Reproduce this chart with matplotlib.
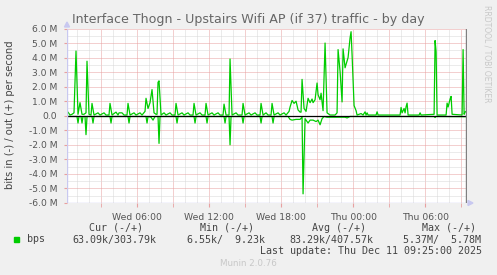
import numpy as np
import matplotlib
matplotlib.use("Agg")
from matplotlib import pyplot as plt
from matplotlib.patches import Rectangle, Polygon

# samples: minutes since Wed 00:00, traffic in Mbit/s
out_min = [5, 15, 25, 35, 45, 55, 65, 75, 85, 95,
           105, 110, 120, 130, 135, 145, 165, 175, 195, 205,
           220, 225, 235, 255, 265, 270, 285, 295, 310, 315,
           325, 345, 355, 375, 385, 400, 405, 415, 425, 435,
           445, 455, 460, 465, 470, 480, 495, 505, 525, 535,
           550, 555, 565, 585, 595, 615, 625, 640, 645, 655,
           675, 685, 700, 705, 715, 735, 745, 765, 775, 790,
           795, 805, 820, 825, 835, 855, 865, 885, 890, 900,
           920, 930, 950, 960, 975, 980, 990, 1005, 1015, 1030,
           1035, 1045, 1065, 1075, 1095, 1105, 1120, 1125, 1135, 1145,
           1155, 1165, 1175, 1180, 1185, 1195, 1205, 1215, 1225, 1235,
           1240, 1250, 1260, 1265, 1275, 1280, 1290, 1300, 1310, 1325,
           1350, 1360, 1365, 1375, 1385, 1390, 1400, 1410, 1415, 1425,
           1430, 1435, 1445, 1455, 1460, 1480, 1490, 1500, 1505, 1510,
           1515, 1555, 1560, 1565, 1675, 1680, 1685, 1695, 1700, 1705,
           1710, 1715, 1770, 1775, 1780, 1840, 1845, 1850, 1855, 1860,
           1905, 1910, 1915, 1925, 1930, 1935, 1980, 1985, 1990, 1995,
           2000, 2005]
out_mbps = [0.05, 0.25, 0.05, 0.1, 0.2, 4.45, 0.1, 0.9, 0.1, 0.1,
            0.2, 3.75, 0.1, 0.05, 0.85, 0.05, 0.2, 0.05, 0.2, 0.05,
            0.05, 0.85, 0.05, 0.25, 0.05, 0.2, 0.2, 0.05, 0.05, 0.85,
            0.05, 0.2, 0.05, 0.2, 0.05, 0.3, 1.2, 0.5, 0.9, 1.8,
            0.2, 0.1, 0.1, 2.3, 2.4, 0.05, 0.2, 0.05, 0.2, 0.05,
            0.05, 0.85, 0.05, 0.2, 0.05, 0.2, 0.05, 0.05, 0.85, 0.05,
            0.2, 0.05, 0.05, 0.85, 0.05, 0.2, 0.05, 0.2, 0.05, 0.05,
            0.8, 0.05, 0.05, 3.9, 0.05, 0.2, 0.05, 0.05, 0.85, 0.05,
            0.2, 0.05, 0.2, 0.05, 0.05, 0.85, 0.05, 0.2, 0.05, 0.05,
            0.85, 0.05, 0.2, 0.05, 0.2, 0.05, 0.3, 0.6, 1.05, 0.85,
            1.0, 0.4, 0.25, 0.25, 2.5, 0.5, 0.3, 1.2, 0.9, 1.15,
            0.9, 1.1, 2.25, 1.45, 1.1, 1.55, 0.35, 5.0, 0.2, 0.05,
            0.05, 0.2, 4.55, 3.05, 0.95, 4.6, 3.3, 3.75, 4.0, 5.35,
            5.78, 4.2, 0.7, 0.35, 0.05, 0.15, 0.05, 0.27, 0.05, 0.2,
            0.05, 0.05, 0.27, 0.05, 0.05, 0.57, 0.2, 0.5, 0.2, 0.62,
            0.87, 0.05, 0.05, 0.2, 0.05, 0.1, 0.1, 5.17, 4.4, 0.05,
            0.05, 0.87, 0.6, 1.15, 1.33, 0.1, 0.05, 0.05, 4.55, 0.1,
            0.25, 0.3]

in_min = [5, 60, 65, 70, 80, 85, 90, 100, 105, 110,
          135, 140, 145, 225, 230, 235, 315, 320, 325, 405,
          410, 415, 430, 440, 450, 465, 470, 475, 555, 560,
          565, 645, 650, 655, 705, 710, 715, 795, 800, 805,
          820, 825, 830, 885, 890, 895, 975, 980, 985, 1035,
          1040, 1045, 1115, 1125, 1135, 1155, 1175, 1185, 1190, 1200,
          1215, 1225, 1240, 1255, 1265, 1275, 1285, 1295, 1310, 1400,
          1410, 1425, 1845, 1850, 1855, 2005]
in_mbps = [0.05, 0.05, 0.5, 0.05, 0.05, 0.5, 0.05, 0.05, 1.3, 0.05,
           0.05, 0.5, 0.05, 0.05, 0.5, 0.05, 0.05, 0.5, 0.05, 0.05,
           0.5, 0.05, 0.1, 0.3, 0.05, 0.05, 1.9, 0.05, 0.05, 0.5,
           0.05, 0.05, 0.5, 0.05, 0.05, 0.5, 0.05, 0.05, 0.5, 0.05,
           0.05, 2.0, 0.05, 0.05, 0.5, 0.05, 0.05, 0.5, 0.05, 0.05,
           0.5, 0.05, 0.05, 0.25, 0.3, 0.25, 0.25, 0.1, 5.37, 0.2,
           0.5, 0.3, 0.3, 0.4, 0.3, 0.62, 0.2, 0.05, 0.1, 0.1,
           0.15, 0.05, 0.05, 0.12, 0.05, 0.063]
assert len(out_min) == len(out_mbps) and len(in_min) == len(in_mbps)

x_ticks = [360, 720, 1080, 1440, 1800]
x_labels = ['Wed 06:00', 'Wed 12:00', 'Wed 18:00', 'Thu 00:00', 'Thu 06:00']
y_ticks = [6, 5, 4, 3, 2, 1, 0, -1, -2, -3, -4, -5, -6]

legend_head = ['Cur (-/+)', 'Min (-/+)', 'Avg (-/+)', 'Max (-/+)']
legend_vals = ['63.09k/303.79k', '6.55k/  9.23k', '83.29k/407.57k', '5.37M/  5.78M']

W, H = 497, 275
bg = '#F0F0F0'
green = '#00CC00'
fig = plt.figure(figsize=(W / 100, H / 100), dpi=100, facecolor=bg)


def fx(px):
    return px / W


def fy(py):
    return 1 - py / H


ax = fig.add_axes([fx(67), fy(203), fx(466.5) - fx(67), fy(28.5) - fy(203)])
ax.set_facecolor('white')
ax.set_xlim(10, 2007)
ax.set_ylim(-6, 6)
for s in ax.spines.values():
    s.set_visible(False)

dot = (0, (1, 1))
for m in np.arange(60, 2007, 60):
    major = m % 180 == 0
    ax.axvline(m, color='#E8A0A0' if major else '#D8D8D8', lw=0.72, ls=dot, zorder=1)
for v in np.arange(-6, 6.01, 0.5):
    major = float(v).is_integer()
    ax.axhline(v, color='#E8A0A0' if major else '#D8D8D8', lw=0.72, ls=dot, zorder=1)

ax.plot(out_min, out_mbps, color=green, lw=0.9, zorder=3)
ax.plot(in_min, [-v for v in in_mbps], color=green, lw=0.9, zorder=3)
ax.axhline(0, color='black', lw=0.9, zorder=4)

# axis lines and arrows
ax.axvline(10, color='#C8C8F0', lw=1, zorder=5)
ax.axhline(-6, color='#C8C8F0', lw=1, zorder=5)
ax.axvline(2007, color='#808080', lw=1, zorder=5)

ax.set_xticks(x_ticks)
ax.set_xticklabels(x_labels)
ax.set_xticks(np.arange(180, 2007, 180), minor=True)
ax.tick_params(axis='x', which='major', length=3, color='#E8A0A0', pad=4,
               labelsize=6.7, labelcolor='#555555')
ax.tick_params(axis='x', which='minor', length=3, color='#E8A0A0')
ax.set_yticks(y_ticks)
ax.set_yticklabels([('%.1f M' % v) if v != 0 else '0.0' for v in y_ticks])
ax.tick_params(axis='y', length=2, color='#E8A0A0', pad=5,
               labelsize=6.6, labelcolor='#555555')

fig.patches.append(Polygon([[fx(64.5), fy(27)], [fx(69.5), fy(27)], [fx(67), fy(22)]],
                           closed=True, color='#C8C8F0', transform=fig.transFigure))
fig.patches.append(Polygon([[fx(468), fy(200.5)], [fx(468), fy(205.5)], [fx(473), fy(203)]],
                           closed=True, color='#C8C8F0', transform=fig.transFigure))

fig.text(fx(248.5), fy(19), 'Interface Thogn - Upstairs Wifi AP (if 37) traffic - by day',
         ha='center', va='center', fontsize=9.1, color='#666666')
fig.text(fx(10.5), fy(115), 'bits in (-) / out (+) per second', rotation=90,
         ha='center', va='center', fontsize=7.2, color='#444444')
fig.text(fx(487), fy(5), 'RRDTOOL / TOBI OETIKER', rotation=270, ha='center', va='top',
         fontsize=5.5, color='#C8C8C8')

mono = dict(family='DejaVu Sans Mono', fontsize=7.2, color='#444444', va='center')
for x, t in zip([89, 200, 311.5, 422.5], legend_head):
    fig.text(fx(x), fy(228), t, **mono)
for x, t in zip([72.3, 186.7, 289, 403.3], legend_vals):
    fig.text(fx(x), fy(239.5), t, **mono)
fig.text(fx(26.7), fy(239.5), 'bps', **mono)
fig.patches.append(Rectangle((fx(14), fy(241.7)), fx(5.3), fy(236.7) - fy(241.7),
                             color=green, transform=fig.transFigure))
fig.text(fx(482), fy(251), 'Last update: Thu Dec 11 09:25:00 2025', ha='right', **mono)
fig.text(fx(248), fy(264), 'Munin 2.0.76', ha='center', va='center',
         fontsize=6.3, color='#C8C8C8')

fig.savefig('out.png', dpi=100, facecolor=bg)
